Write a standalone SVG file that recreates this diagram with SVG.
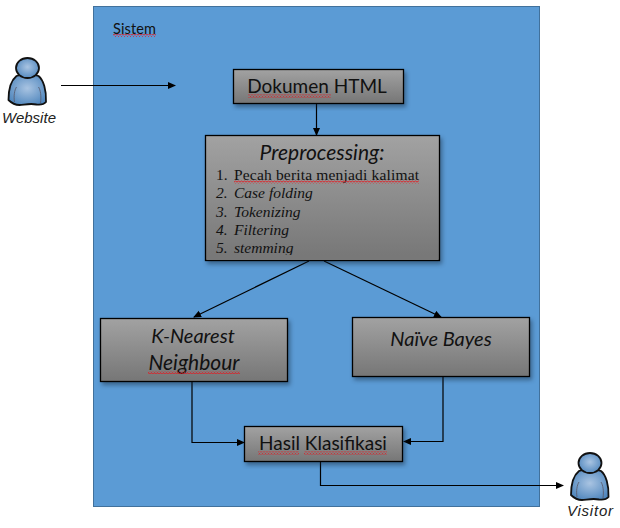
<svg xmlns="http://www.w3.org/2000/svg" width="620" height="528" viewBox="0 0 620 528">
<style>
.box{fill:url(#g);stroke:#000;stroke-width:1.3;filter:url(#s)}
.t{font-family:"Lato","Open Sans",sans-serif;font-size:20px;fill:#111;text-anchor:middle}
.i{font-style:italic}
.r{font-family:"Liberation Serif",serif;font-size:15.5px;fill:#111}
.c{fill:none;stroke:#000;stroke-width:1.2}
.sq{fill:url(#w)}
.lb{font-family:"Liberation Sans",sans-serif;font-style:italic;font-size:15px;fill:#222;text-anchor:middle}
</style>
<defs>
<pattern id="w" width="3" height="3" patternUnits="userSpaceOnUse"><path d="M0 2.500L1.500 0.500L3 2.500" fill="none" stroke="#e8141c" stroke-width="0.9"/></pattern>
<linearGradient id="g" x1="0" y1="0" x2="0" y2="1"><stop offset="0" stop-color="#a2a2a2"/><stop offset="1" stop-color="#767676"/></linearGradient>
<radialGradient id="u" cx="0.5" cy="0.45" r="0.6"><stop offset="0" stop-color="#a9c4e2"/><stop offset="1" stop-color="#4f86bd"/></radialGradient>
<filter id="s" x="-10%" y="-10%" width="125%" height="130%" color-interpolation-filters="sRGB"><feDropShadow dx="2" dy="3" stdDeviation="2" flood-color="#123" flood-opacity="0.45"/></filter>
<marker id="a" markerWidth="8" markerHeight="8" refX="7" refY="3.500" orient="auto" markerUnits="userSpaceOnUse"><path d="M0 0L8 3.500L0 7Z" fill="#000"/></marker>
<g id="person">
<path d="M-11 0C-6 -2 6 -2 11 0C16 4 19 14 18.500 26C16 29 13 29 9 28.500C2 27 -4 29 -8 29C-12 29 -16 27 -19 24C-19 13 -16 4 -11 0Z" fill="url(#u)" stroke="#111" stroke-width="1.8"/>
<path d="M-13 26C-14 20 -13 14 -11 11M13 27C14 20 13 14 11 11" fill="none" stroke="#556" stroke-width="0.8"/>
<ellipse cx="0" cy="-8" rx="11.500" ry="10" fill="url(#u)" stroke="#111" stroke-width="1.8"/>
</g>
</defs>
<rect width="620" height="528" fill="#fff"/>
<g id="sistem">
<rect x="93.500" y="6.500" width="446" height="500" fill="#5b9bd5" stroke="#41719c" stroke-width="1"/>
<text x="113" y="34" font-family="Lato,Open Sans,sans-serif" font-size="14.500" fill="#111" textLength="43">Sistem</text>
<rect class="sq" x="113" y="34" width="43" height="3"/>
</g>
<g id="connectors">
<path class="c" d="M61 85.500H175" marker-end="url(#a)"/>
<path class="c" d="M316.500 103V135" marker-end="url(#a)"/>
<path class="c" d="M309 261L194 317" marker-end="url(#a)"/>
<path class="c" d="M324 261L441 317" marker-end="url(#a)"/>
<path class="c" d="M192 382V442.500H244" marker-end="url(#a)"/>
<path class="c" d="M443 377V441.500H404" marker-end="url(#a)"/>
<path class="c" d="M320.500 462V485.500H563" marker-end="url(#a)"/>
</g>
<g id="website">
<use href="#person" x="27.500" y="76"/>
<text class="lb" x="29" y="123" textLength="54">Website</text>
</g>
<g id="visitor">
<use href="#person" x="590" y="471"/>
<text class="lb" x="590" y="516" textLength="46">Visitor</text>
</g>
<g id="dokumen">
<rect class="box" x="233.500" y="69.500" width="170" height="34"/>
<text class="t" x="317" y="93" style="font-size:19px">Dokumen HTML</text>
<rect class="sq" x="248" y="94.500" width="83" height="3"/>
</g>
<g id="preprocessing">
<rect class="box" x="205.500" y="135.500" width="234" height="125"/>
<text class="t i" x="322" y="160" style="font-size:21px">Preprocessing:</text>
<text class="r" x="216" y="180">1.</text><text class="r" x="234" y="180" textLength="185">Pecah berita menjadi kalimat</text>
<text class="r i" x="216" y="198">2.</text><text class="r i" x="234" y="198">Case folding</text>
<text class="r i" x="216" y="217">3.</text><text class="r i" x="234" y="217">Tokenizing</text>
<text class="r i" x="216" y="235">4.</text><text class="r i" x="234" y="235">Filtering</text>
<text class="r i" x="216" y="253">5.</text><text class="r i" x="234" y="253">stemming</text>
<rect class="sq" x="234" y="180.500" width="185" height="3"/>
<rect x="207" y="255" width="231" height="5" fill="#787878"/>
</g>
<g id="knn">
<rect class="box" x="100.500" y="318.500" width="187" height="63"/>
<text class="t i" x="193" y="343">K-Nearest</text>
<text class="t i" x="194" y="370" style="font-size:21px">Neighbour</text>
<rect class="sq" x="148" y="371" width="92" height="3"/>
</g>
<g id="naive">
<rect class="box" x="352.500" y="317.500" width="177" height="59"/>
<text class="t i" x="441" y="346">Naïve Bayes</text>
</g>
<g id="hasil">
<rect class="box" x="244.500" y="426.500" width="158" height="35"/>
<text class="t" x="323" y="450" style="font-size:19px">Hasil Klasifikasi</text>
<rect class="sq" x="258" y="451.500" width="41" height="3"/>
<rect class="sq" x="304" y="451.500" width="83" height="3"/>
</g>
</svg>
